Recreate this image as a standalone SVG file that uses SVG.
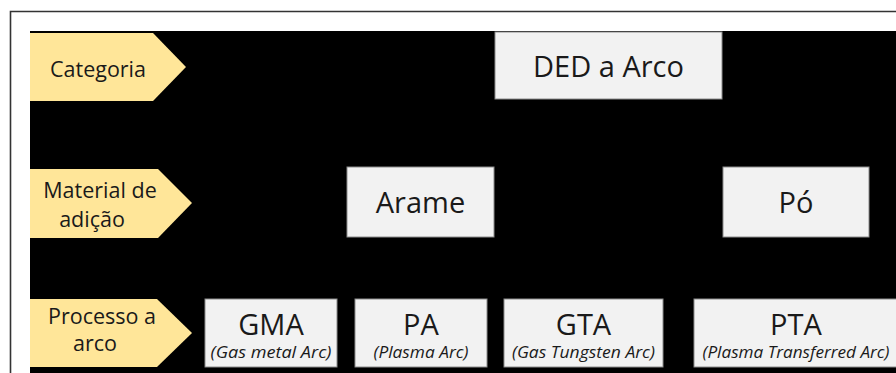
<svg xmlns="http://www.w3.org/2000/svg" width="896" height="373" viewBox="0 0 896 373">
<style>
text{font-family:"Open Sans","Noto Sans",sans-serif;fill:#1a1a1a;text-anchor:middle}
.lab{font-size:21.5px}
.big{font-size:29px}
.sub{font-size:16.5px;font-style:italic}
.tag{fill:#ffe699}
.box{fill:#f2f2f2;stroke:#8c8c8c;stroke-width:1}
</style>
<rect x="0" y="0" width="896" height="373" fill="#fff"/>
<path d="M10.5 373V11.5H896" fill="none" stroke="#333" stroke-width="1.6"/>
<rect x="30" y="31" width="866" height="342" fill="#000"/>
<g id="connectors"/>
<g id="tag-categoria"><polygon class="tag" points="30,33 153,33 186,67 153,101 30,101"/><text class="lab" x="98" y="77">Categoria</text></g>
<g id="tag-material"><polygon class="tag" points="30,169 158,169 192,203 158,238 30,238"/><text class="lab" x="100" y="198">Material de</text><text class="lab" x="92" y="227">adição</text></g>
<g id="tag-processo"><polygon class="tag" points="30,299 157,299 192,333 157,367 30,367"/><text class="lab" x="102" y="324">Processo a</text><text class="lab" x="95" y="351">arco</text></g>
<g id="ded"><rect class="box" x="495" y="32" width="227" height="67"/><text class="big" x="608.5" y="77">DED a Arco</text></g>
<g id="arame"><rect class="box" x="347" y="167" width="147" height="70"/><text class="big" x="420.5" y="213">Arame</text></g>
<g id="po"><rect class="box" x="723" y="167" width="146" height="70"/><text class="big" x="796" y="213">Pó</text></g>
<g id="gma"><rect class="box" x="205" y="299" width="132" height="68"/><text class="big" x="271" y="335">GMA</text><text class="sub" x="271" y="358" textLength="121" lengthAdjust="spacingAndGlyphs">(Gas metal Arc)</text></g>
<g id="pa"><rect class="box" x="355" y="299" width="132" height="68"/><text class="big" x="421" y="335">PA</text><text class="sub" x="421" y="358" textLength="95" lengthAdjust="spacingAndGlyphs">(Plasma Arc)</text></g>
<g id="gta"><rect class="box" x="504" y="299" width="159" height="68"/><text class="big" x="583.5" y="335">GTA</text><text class="sub" x="583.5" y="358" textLength="143" lengthAdjust="spacingAndGlyphs">(Gas Tungsten Arc)</text></g>
<g id="pta"><rect class="box" x="694" y="299" width="210" height="68"/><text class="big" x="796" y="335">PTA</text><text class="sub" x="796" y="358" textLength="187" lengthAdjust="spacingAndGlyphs">(Plasma Transferred Arc)</text></g>
</svg>
